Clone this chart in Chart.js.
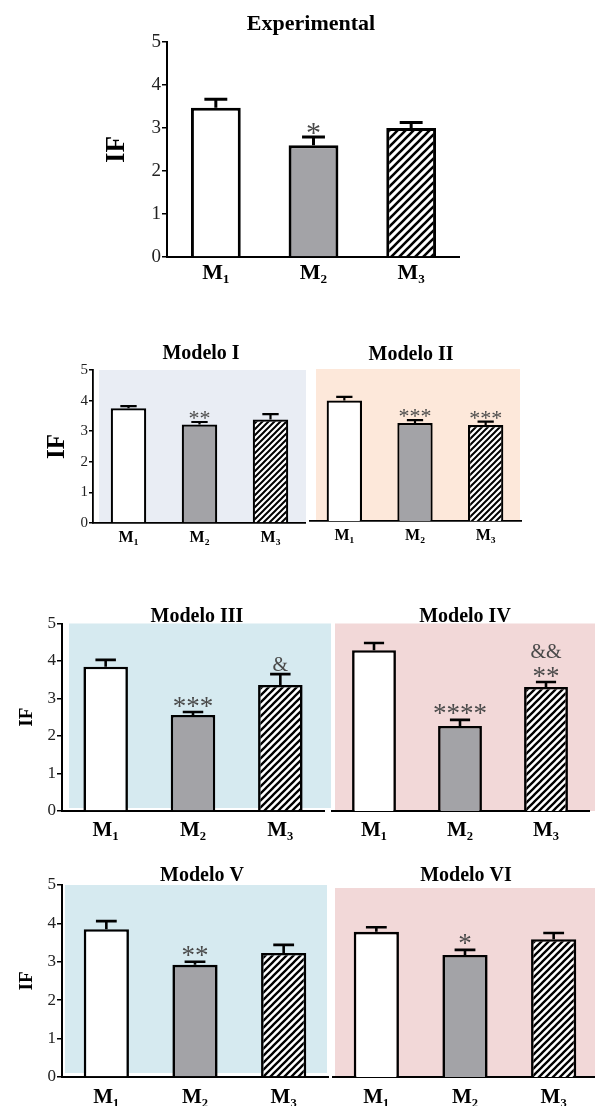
<!DOCTYPE html>
<html>
<head>
<meta charset="utf-8">
<script src="https://cdn.jsdelivr.net/npm/chart.js@4.4.1/dist/chart.umd.min.js"></script>
<style>
  html, body { margin: 0; padding: 0; background: #fff; }
  body { position: relative; width: 595px; height: 1106px; overflow: hidden; }
  canvas { position: absolute; }
</style>
</head>
<body>
<script>
var categories = ["M\u2081", "M\u2082", "M\u2083"];
var yTicks = [0, 1, 2, 3, 4, 5];

var expMeans = [3.47, 2.6, 3.0];
var expErrs = [3.67, 2.79, 3.13];
var expMarks = [[], ["*"], []];

var m1Means = [3.75, 3.22, 3.38];
var m1Errs = [3.82, 3.3, 3.56];
var m1Marks = [[], ["**"], []];

var m2Means = [3.96, 3.22, 3.16];
var m2Errs = [4.08, 3.32, 3.27];
var m2Marks = [[], ["***"], ["***"]];

var m3Means = [3.85, 2.56, 3.36];
var m3Errs = [4.03, 2.64, 3.65];
var m3Marks = [[], ["***"], ["&"]];

var m4Means = [4.29, 2.27, 3.31];
var m4Errs = [4.48, 2.43, 3.44];
var m4Marks = [[], ["****"], ["**", "&&"]];

var m5Means = [3.85, 2.92, 3.23];
var m5Errs = [4.06, 3.0, 3.44];
var m5Marks = [[], ["**"], []];

var m6Means = [3.78, 3.18, 3.59];
var m6Errs = [3.9, 3.31, 3.75];
var m6Marks = [[], ["*"], []];

var SERIF = '"Liberation Serif", "Times New Roman", serif';

function hatch(size, lw) {
  var c = document.createElement("canvas");
  c.width = size;
  c.height = size;
  var g = c.getContext("2d");
  g.fillStyle = "#fff";
  g.fillRect(0, 0, size, size);
  g.strokeStyle = "#000";
  g.lineWidth = lw;
  g.beginPath();
  g.moveTo(-1, size + 1); g.lineTo(size + 1, -1);
  g.moveTo(-size / 2 - 1, size / 2 + 1); g.lineTo(size / 2 + 1, -size / 2 - 1);
  g.moveTo(size / 2 - 1, size * 1.5 + 1); g.lineTo(size * 1.5 + 1, size / 2 - 1);
  g.stroke();
  return g.createPattern(c, "repeat");
}

// text centred on its ink box
function inkText(ctx, text, x, cy) {
  ctx.textAlign = "center";
  ctx.textBaseline = "alphabetic";
  var m = ctx.measureText(text);
  ctx.fillText(text, x, cy + (m.actualBoundingBoxAscent - m.actualBoundingBoxDescent) / 2);
}

var panelDecor = {
  id: "panelDecor",
  beforeDraw: function (chart, args, o) {
    var a = chart.chartArea;
    var ctx = chart.ctx;
    ctx.save();
    ctx.fillStyle = o.bg;
    ctx.fillRect(a.left + o.bgL, a.top + o.bgT, a.right - a.left - o.bgL + o.bgR, a.bottom - a.top - o.bgT - o.bgB);
    ctx.restore();
  },
  afterDatasetsDraw: function (chart, args, o) {
    var ctx = chart.ctx;
    var ys = chart.scales.y;
    var meta = chart.getDatasetMeta(0);
    ctx.save();
    ctx.strokeStyle = "#000";
    ctx.lineWidth = o.errW;
    meta.data.forEach(function (bar, i) {
      var top = ys.getPixelForValue(o.errs[i]);
      var cap = bar.width * 0.46;
      ctx.beginPath();
      ctx.moveTo(bar.x, bar.y);
      ctx.lineTo(bar.x, top);
      ctx.moveTo(bar.x - cap / 2, top);
      ctx.lineTo(bar.x + cap / 2, top);
      ctx.stroke();
      ctx.fillStyle = o.markColor;
      (o.marks[i] || []).forEach(function (t, k) {
        var isStar = t.charAt(0) === "*";
        ctx.font = (isStar ? o.markSize : o.ampSize) + "px " + SERIF;
        inkText(ctx, t, bar.x, top - o.markGap - k * o.markStep);
      });
    });
    ctx.restore();
  },
  afterDraw: function (chart, args, o) {
    var ctx = chart.ctx;
    ctx.save();
    ctx.fillStyle = "#000";
    ctx.font = "bold " + o.titleSize + "px " + SERIF;
    inkText(ctx, o.title, o.titleX, o.titleY);
    ctx.restore();
  }
};

function makePanel(p) {
  var cv = document.createElement("canvas");
  cv.width = p.w;
  cv.height = p.h;
  cv.style.left = p.x + "px";
  cv.style.top = p.y + "px";
  cv.style.width = p.w + "px";
  cv.style.height = p.h + "px";
  document.body.appendChild(cv);

  new Chart(cv, {
    type: "bar",
    data: {
      labels: categories,
      datasets: [
        {
          data: p.means,
          backgroundColor: ["#ffffff", "#a3a3a7", hatch(p.hatch, p.hatchW)],
          borderColor: "#000",
          borderWidth: p.bw,
          barPercentage: p.barPct,
          categoryPercentage: 1,
        },
      ],
    },
    options: {
      responsive: false,
      animation: false,
      devicePixelRatio: 1,
      layout: { padding: { left: 0, top: p.pt, right: p.pr, bottom: 0 } },
      plugins: {
        legend: { display: false },
        tooltip: { enabled: false },
        panelDecor: {
          bg: p.bg, bgL: p.bgL, bgR: p.bgR, bgT: p.bgT || 0, bgB: p.bgB || 0,
          errs: p.errs, errW: p.bw,
          marks: p.marks, markSize: p.markSize, ampSize: p.ampSize, markGap: p.markGap, markStep: p.markStep,
          markColor: "#4a4a4a",
          title: p.title, titleSize: p.titleSize,
          titleX: p.titleX - p.x, titleY: p.titleY - p.y,
        },
      },
      scales: {
        x: {
          grid: { display: false, drawTicks: false },
          border: { display: true, color: "#000", width: p.axisW },
          ticks: {
            color: "#000",
            padding: p.xPad,
            font: { family: SERIF, size: p.xSize, weight: "bold" },
          },
          afterFit: function (s) { s.height = p.hx; },
        },
        y: {
          display: p.showY,
          min: 0,
          max: 5,
          afterBuildTicks: function (s) {
            s.ticks = yTicks.map(function (v) { return { value: v }; });
          },
          grid: { drawOnChartArea: false, drawTicks: true, tickLength: p.tickLen, color: "#000", lineWidth: 1.5 },
          border: { display: true, color: "#000", width: p.axisW },
          ticks: {
            color: "#222",
            padding: 1,
            font: { family: SERIF, size: p.ySize },
          },
          title: {
            display: true,
            text: "IF",
            color: "#000",
            font: { family: SERIF, size: p.ifSize, weight: "bold" },
            padding: { top: p.ifPad, bottom: 0 },
          },
          afterFit: function (s) { s.width = p.wy; },
        },
      },
    },
    plugins: [panelDecor],
  });
}

var big = { titleSize: 22, ySize: 19, ifSize: 27, xSize: 22, bw: 3, axisW: 2, tickLen: 5, hatch: 8, hatchW: 2.6, markSize: 30, ampSize: 22, markGap: 9, markStep: 20, barPct: 0.51 };
var small = { titleSize: 20, ySize: 15, ifSize: 25, xSize: 16, bw: 2.2, axisW: 1.8, tickLen: 4, hatch: 6, hatchW: 2, markSize: 22, ampSize: 16, markGap: 7, markStep: 15, barPct: 0.5 };
var mid = { titleSize: 20, ySize: 17, ifSize: 19, xSize: 21, bw: 2.6, axisW: 2, tickLen: 5, hatch: 7, hatchW: 2.3, markSize: 27, ampSize: 20, markGap: 10, markStep: 21, barPct: 0.51 };

function panel(base, extra) {
  return Object.assign({}, base, extra);
}

// Experimental
makePanel(panel(big, {
  x: 80, y: 0, w: 380, h: 300, pt: 42, pr: 0, wy: 87, hx: 43, xPad: 3, ifPad: 21, showY: true,
  means: expMeans, errs: expErrs, marks: expMarks,
  bg: "#ffffff", bgL: 0, bgR: 0,
  title: "Experimental", titleX: 311, titleY: 25,
}));

// Modelo I
makePanel(panel(small, {
  x: 0, y: 330, w: 306, h: 250, pt: 40, pr: 0, wy: 93, hx: 57, xPad: 5, ifPad: 43, showY: true,
  means: m1Means, errs: m1Errs, marks: m1Marks,
  bg: "#e9edf4", bgL: 6, bgR: 0,
  title: "Modelo I", titleX: 201, titleY: 351,
}));

// Modelo II
makePanel(panel(small, {
  x: 309, y: 330, w: 214, h: 250, pt: 39, pr: 2, wy: 0, hx: 59, xPad: 5, ifPad: 0, showY: false,
  means: m2Means, errs: m2Errs, marks: m2Marks,
  bg: "#fde8da", bgL: 7, bgR: -1,
  title: "Modelo II", titleX: 411, titleY: 352,
}));

// Modelo III
makePanel(panel(mid, {
  x: 0, y: 585, w: 331, h: 285, pt: 38.5, pr: 7, wy: 62, hx: 59, xPad: 7, ifPad: 16, showY: true,
  means: m3Means, errs: m3Errs, marks: m3Marks,
  bg: "#d6eaf0", bgL: 7, bgR: 7, bgB: 3,
  title: "Modelo III", titleX: 197, titleY: 614,
}));

// Modelo IV
makePanel(panel(mid, {
  x: 331, y: 585, w: 264, h: 285, pt: 38.5, pr: 6, wy: 0, hx: 59, xPad: 7, ifPad: 0, showY: false,
  means: m4Means, errs: m4Errs, marks: m4Marks,
  bg: "#f2d8d8", bgL: 4, bgR: 6,
  title: "Modelo IV", titleX: 465, titleY: 614,
}));

// Modelo V
makePanel(panel(mid, {
  x: 0, y: 850, w: 330, h: 256, pt: 35, pr: 2, wy: 62, hx: 29, xPad: 8, ifPad: 16, showY: true,
  means: m5Means, errs: m5Errs, marks: m5Marks,
  bg: "#d6eaf0", bgL: 3, bgR: -1, bgB: 4,
  title: "Modelo V", titleX: 202, titleY: 873,
}));

// Modelo VI
makePanel(panel(mid, {
  x: 332, y: 850, w: 268, h: 256, pt: 35, pr: 2, wy: 0, hx: 29, xPad: 8, ifPad: 0, showY: false,
  means: m6Means, errs: m6Errs, marks: m6Marks,
  bg: "#f2d8d8", bgL: 3, bgR: 2, bgT: 3,
  title: "Modelo VI", titleX: 466, titleY: 873,
}));
</script>
</body>
</html>
